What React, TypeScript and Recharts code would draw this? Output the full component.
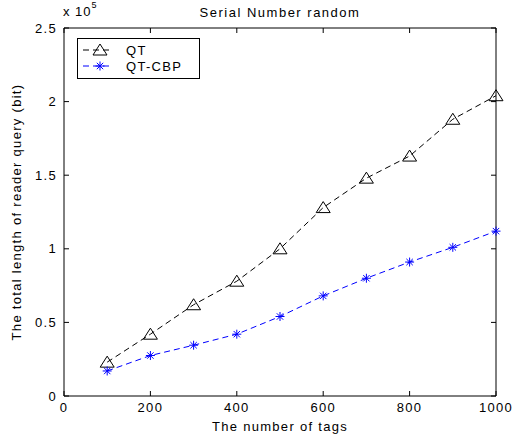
import { LineChart, Line, XAxis, YAxis } from "recharts";

const tags = [100, 200, 300, 400, 500, 600, 700, 800, 900, 1000];
const qt = [23000, 42000, 62000, 78000, 100000, 128000, 148000, 163000, 188000, 204000];
const qtCbp = [17000, 27500, 34500, 42000, 54000, 68000, 80000, 91000, 101000, 112000];
const xTicks = [0, 200, 400, 600, 800, 1000];
const yTicks = [0, 50000, 100000, 150000, 200000, 250000];

const data = tags.map((t, i) => ({ tags: t, qt: qt[i], qtCbp: qtCbp[i] }));

const font = "'Liberation Sans', Arial, sans-serif";
const ls = 1.3;

const Triangle = (props: any) => {
  const { cx, cy } = props;
  if (cx == null || cy == null) return null;
  return (
    <polygon
      points={`${cx},${cy - 6} ${cx - 7},${cy + 5} ${cx + 7},${cy + 5}`}
      fill="none"
      stroke="#000"
      strokeWidth={1}
    />
  );
};

const Star = (props: any) => {
  const { cx, cy } = props;
  if (cx == null || cy == null) return null;
  const r = 4.5;
  const d = 3.2;
  return (
    <g stroke="#0000ff" strokeWidth={1}>
      <line x1={cx} y1={cy - r} x2={cx} y2={cy + r} />
      <line x1={cx - r} y1={cy} x2={cx + r} y2={cy} />
      <line x1={cx - d} y1={cy - d} x2={cx + d} y2={cy + d} />
      <line x1={cx - d} y1={cy + d} x2={cx + d} y2={cy - d} />
    </g>
  );
};

// inward MATLAB-style ticks
const BottomTick = ({ x, y, payload }: any) => (
  <g>
    <line x1={x} y1={y} x2={x} y2={y - 5} stroke="#000" />
    <text x={x} y={y + 16} textAnchor="middle" fontSize={13} letterSpacing={ls} fontFamily={font} fill="#000">
      {payload.value}
    </text>
  </g>
);
const LeftTick = ({ x, y, payload }: any) => (
  <g>
    <line x1={x} y1={y} x2={x + 5} y2={y} stroke="#000" />
    <text x={x - 7} y={y + 4.5} textAnchor="end" fontSize={13} letterSpacing={ls} fontFamily={font} fill="#000">
      {String(payload.value / 100000)}
    </text>
  </g>
);
const TopTick = ({ x, y }: any) => <line x1={x} y1={y} x2={x} y2={y + 5} stroke="#000" />;
const RightTick = ({ x, y }: any) => <line x1={x} y1={y} x2={x - 5} y2={y} stroke="#000" />;

export default function App() {
  return (
    <div style={{ position: "absolute", left: 0, top: 0, width: 513, height: 438, background: "#fff", fontFamily: font }}>
      <LineChart width={513} height={438} data={data} margin={{ top: 27, right: 16, left: 0, bottom: 0 }}>
        <XAxis
          dataKey="tags"
          type="number"
          domain={[0, 1000]}
          ticks={xTicks}
          height={42}
          stroke="#000"
          tickLine={false}
          tickSize={0}
          tickMargin={0}
          tick={BottomTick}
          label={{
            content: ({ viewBox }: any) => (
              <text x={viewBox.x + viewBox.width / 2} y={431} textAnchor="middle" fontSize={13} letterSpacing={ls} fontFamily={font} fill="#000">
                The number of tags
              </text>
            ),
          }}
        />
        <XAxis xAxisId="top" dataKey="tags" orientation="top" type="number" domain={[0, 1000]} ticks={xTicks} height={1} stroke="#000" tickLine={false} tickSize={0} tickMargin={0} tick={TopTick} />
        <YAxis
          type="number"
          domain={[0, 250000]}
          ticks={yTicks}
          width={64}
          stroke="#000"
          tickLine={false}
          tickSize={0}
          tickMargin={0}
          tick={LeftTick}
          label={{
            content: ({ viewBox }: any) => {
              const cy = viewBox.y + viewBox.height / 2;
              return (
                <text x={21} y={cy} transform={`rotate(-90 21 ${cy})`} textAnchor="middle" fontSize={13} letterSpacing={ls} fontFamily={font} fill="#000">
                  The total length of reader query (bit)
                </text>
              );
            },
          }}
        />
        <YAxis yAxisId="right" orientation="right" type="number" domain={[0, 250000]} ticks={yTicks} width={1} stroke="#000" tickLine={false} tickSize={0} tickMargin={0} tick={RightTick} />
        <Line xAxisId="top" yAxisId="right" dataKey="qt" stroke="none" dot={false} legendType="none" isAnimationActive={false} />
        <Line dataKey="qt" stroke="#000" strokeWidth={1} strokeDasharray="6 4" dot={<Triangle />} isAnimationActive={false} />
        <Line dataKey="qtCbp" stroke="#0000ff" strokeWidth={1} strokeDasharray="6 4" dot={<Star />} isAnimationActive={false} />
      </LineChart>
      <div style={{ position: "absolute", left: 0, width: 560, top: 5, textAlign: "center", fontSize: 13, letterSpacing: 1.5 }}>Serial Number random</div>
      <div style={{ position: "absolute", left: 63, top: 4, fontSize: 13, letterSpacing: 1 }}>
        x 10<sup style={{ fontSize: 9, verticalAlign: "top", position: "relative", top: -4 }}>5</sup>
      </div>
      <svg style={{ position: "absolute", left: 77, top: 38 }} width={123} height={41}>
        <rect x={0.5} y={0.5} width={122} height={40} fill="#fff" stroke="#000" />
        <line x1={6} y1={12} x2={36} y2={12} stroke="#000" strokeDasharray="6 4" />
        <Triangle cx={23} cy={12} />
        <text x={49} y={17} fontSize={13} letterSpacing={ls} fontFamily={font} fill="#000">QT</text>
        <line x1={6} y1={28} x2={36} y2={28} stroke="#0000ff" strokeDasharray="6 4" />
        <Star cx={23} cy={28} />
        <text x={49} y={33} fontSize={13} letterSpacing={ls} fontFamily={font} fill="#000">QT-CBP</text>
      </svg>
    </div>
  );
}
